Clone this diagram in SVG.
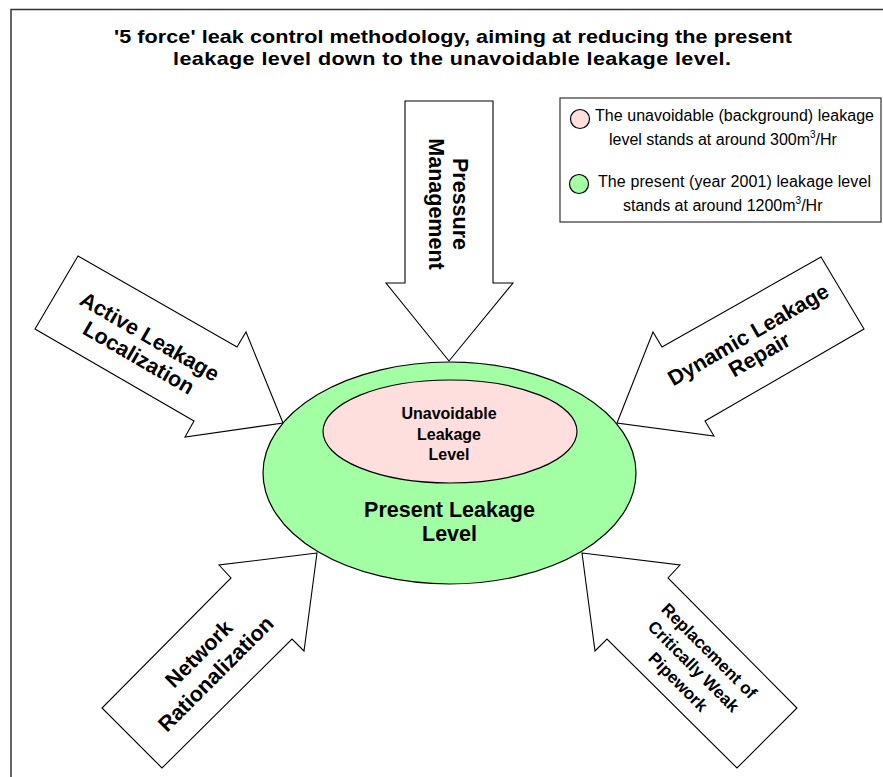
<svg xmlns="http://www.w3.org/2000/svg" width="883" height="777" viewBox="0 0 883 777">
<style>
.b{font-family:"Liberation Sans",Arial,sans-serif;font-weight:bold;fill:#000}
.r{font-family:"Liberation Sans",Arial,sans-serif;font-weight:normal;fill:#000}
.arr{fill:#fff;stroke:#000;stroke-width:1.1;stroke-linejoin:miter}
.green{fill:#a3ffa3;stroke:#000;stroke-width:1.2}
.pink{fill:#ffdede;stroke:#000;stroke-width:1.2}
.big{font-size:21.5px}
</style>
<rect x="0" y="0" width="883" height="777" fill="#fff"/>
<rect id="frame" x="11" y="9.5" width="900" height="800" fill="none" stroke="#333" stroke-width="1.5"/>
<g id="title">
<text class="b" font-size="18" transform="translate(453,43) scale(1.2,1)" x="0" y="0" text-anchor="middle" textLength="565" lengthAdjust="spacing">'5 force' leak control methodology, aiming at reducing the present</text>
<text class="b" font-size="18" transform="translate(452,65) scale(1.2,1)" x="0" y="0" text-anchor="middle" textLength="465" lengthAdjust="spacing">leakage level down to the unavoidable leakage level.</text>
</g>
<g id="legend">
<rect x="560" y="98" width="321" height="124" fill="#fff" stroke="#333" stroke-width="1.2"/>
<circle class="pink" cx="580" cy="119" r="9.5"/>
<circle class="green" cx="579" cy="184" r="9.5"/>
<text class="r" font-size="16" x="595" y="121" textLength="279" lengthAdjust="spacing">The unavoidable (background) leakage</text>
<text class="r" font-size="16" x="609" y="145">level stands at around 300m<tspan font-size="10" dy="-7">3</tspan><tspan dy="7">/Hr</tspan></text>
<text class="r" font-size="16" x="598" y="187" textLength="273" lengthAdjust="spacing">The present (year 2001) leakage level</text>
<text class="r" font-size="16" x="623" y="211">stands at around 1200m<tspan font-size="10" dy="-7">3</tspan><tspan dy="7">/Hr</tspan></text>
</g>
<g id="connectors">
<g id="arrow-pressure">
<polygon class="arr" points="405,101 493,101 493,283 513,283 449,361 386,283 405,283"/>
<text class="b big" transform="translate(453,204) rotate(90)" text-anchor="middle">Pressure</text>
<text class="b big" transform="translate(429,204) rotate(90)" text-anchor="middle">Management</text>
</g>
<g id="arrow-active">
<polygon class="arr" points="283,423 246,332 237,347 78,256 35,329 194,421 185,437"/>
<text class="b big" transform="translate(146,343) rotate(30)" text-anchor="middle">Active Leakage</text>
<text class="b big" transform="translate(135,364) rotate(30)" text-anchor="middle">Localization</text>
</g>
<g id="arrow-dynamic">
<polygon class="arr" points="617,423 653,332 662,347 821,257 864,329 705,421 714,436"/>
<text class="b big" transform="translate(752,341) rotate(-30)" text-anchor="middle">Dynamic Leakage</text>
<text class="b big" transform="translate(763,361) rotate(-30)" text-anchor="middle">Repair</text>
</g>
<g id="arrow-network">
<polygon class="arr" points="317,553 219,565 231,578 102,708 162,768 292,639 304,651"/>
<text class="b big" transform="translate(204,659) rotate(-45)" text-anchor="middle">Network</text>
<text class="b big" transform="translate(221,679) rotate(-45)" text-anchor="middle">Rationalization</text>
</g>
<g id="arrow-replacement">
<polygon class="arr" points="582,553 680,565 668,578 797,708 737,768 607,639 595,651"/>
<text class="b" font-size="17" transform="translate(705,655) rotate(45)" text-anchor="middle">Replacement of</text>
<text class="b" font-size="17" transform="translate(689.5,670.5) rotate(45)" text-anchor="middle">Critically Weak</text>
<text class="b" font-size="17" transform="translate(674,686) rotate(45)" text-anchor="middle">Pipework</text>
</g>
</g>
<g id="present-leakage">
<ellipse class="green" cx="449.5" cy="473" rx="186.5" ry="111"/>
<text class="b big" x="449.5" y="517" text-anchor="middle">Present Leakage</text>
<text class="b big" x="449.5" y="541" text-anchor="middle">Level</text>
</g>
<g id="unavoidable-leakage">
<ellipse class="pink" cx="450" cy="431.5" rx="127" ry="51.5"/>
<text class="b" font-size="16" x="449" y="419" text-anchor="middle">Unavoidable</text>
<text class="b" font-size="16" x="449" y="439.5" text-anchor="middle">Leakage</text>
<text class="b" font-size="16" x="449" y="460" text-anchor="middle">Level</text>
</g>
</svg>
